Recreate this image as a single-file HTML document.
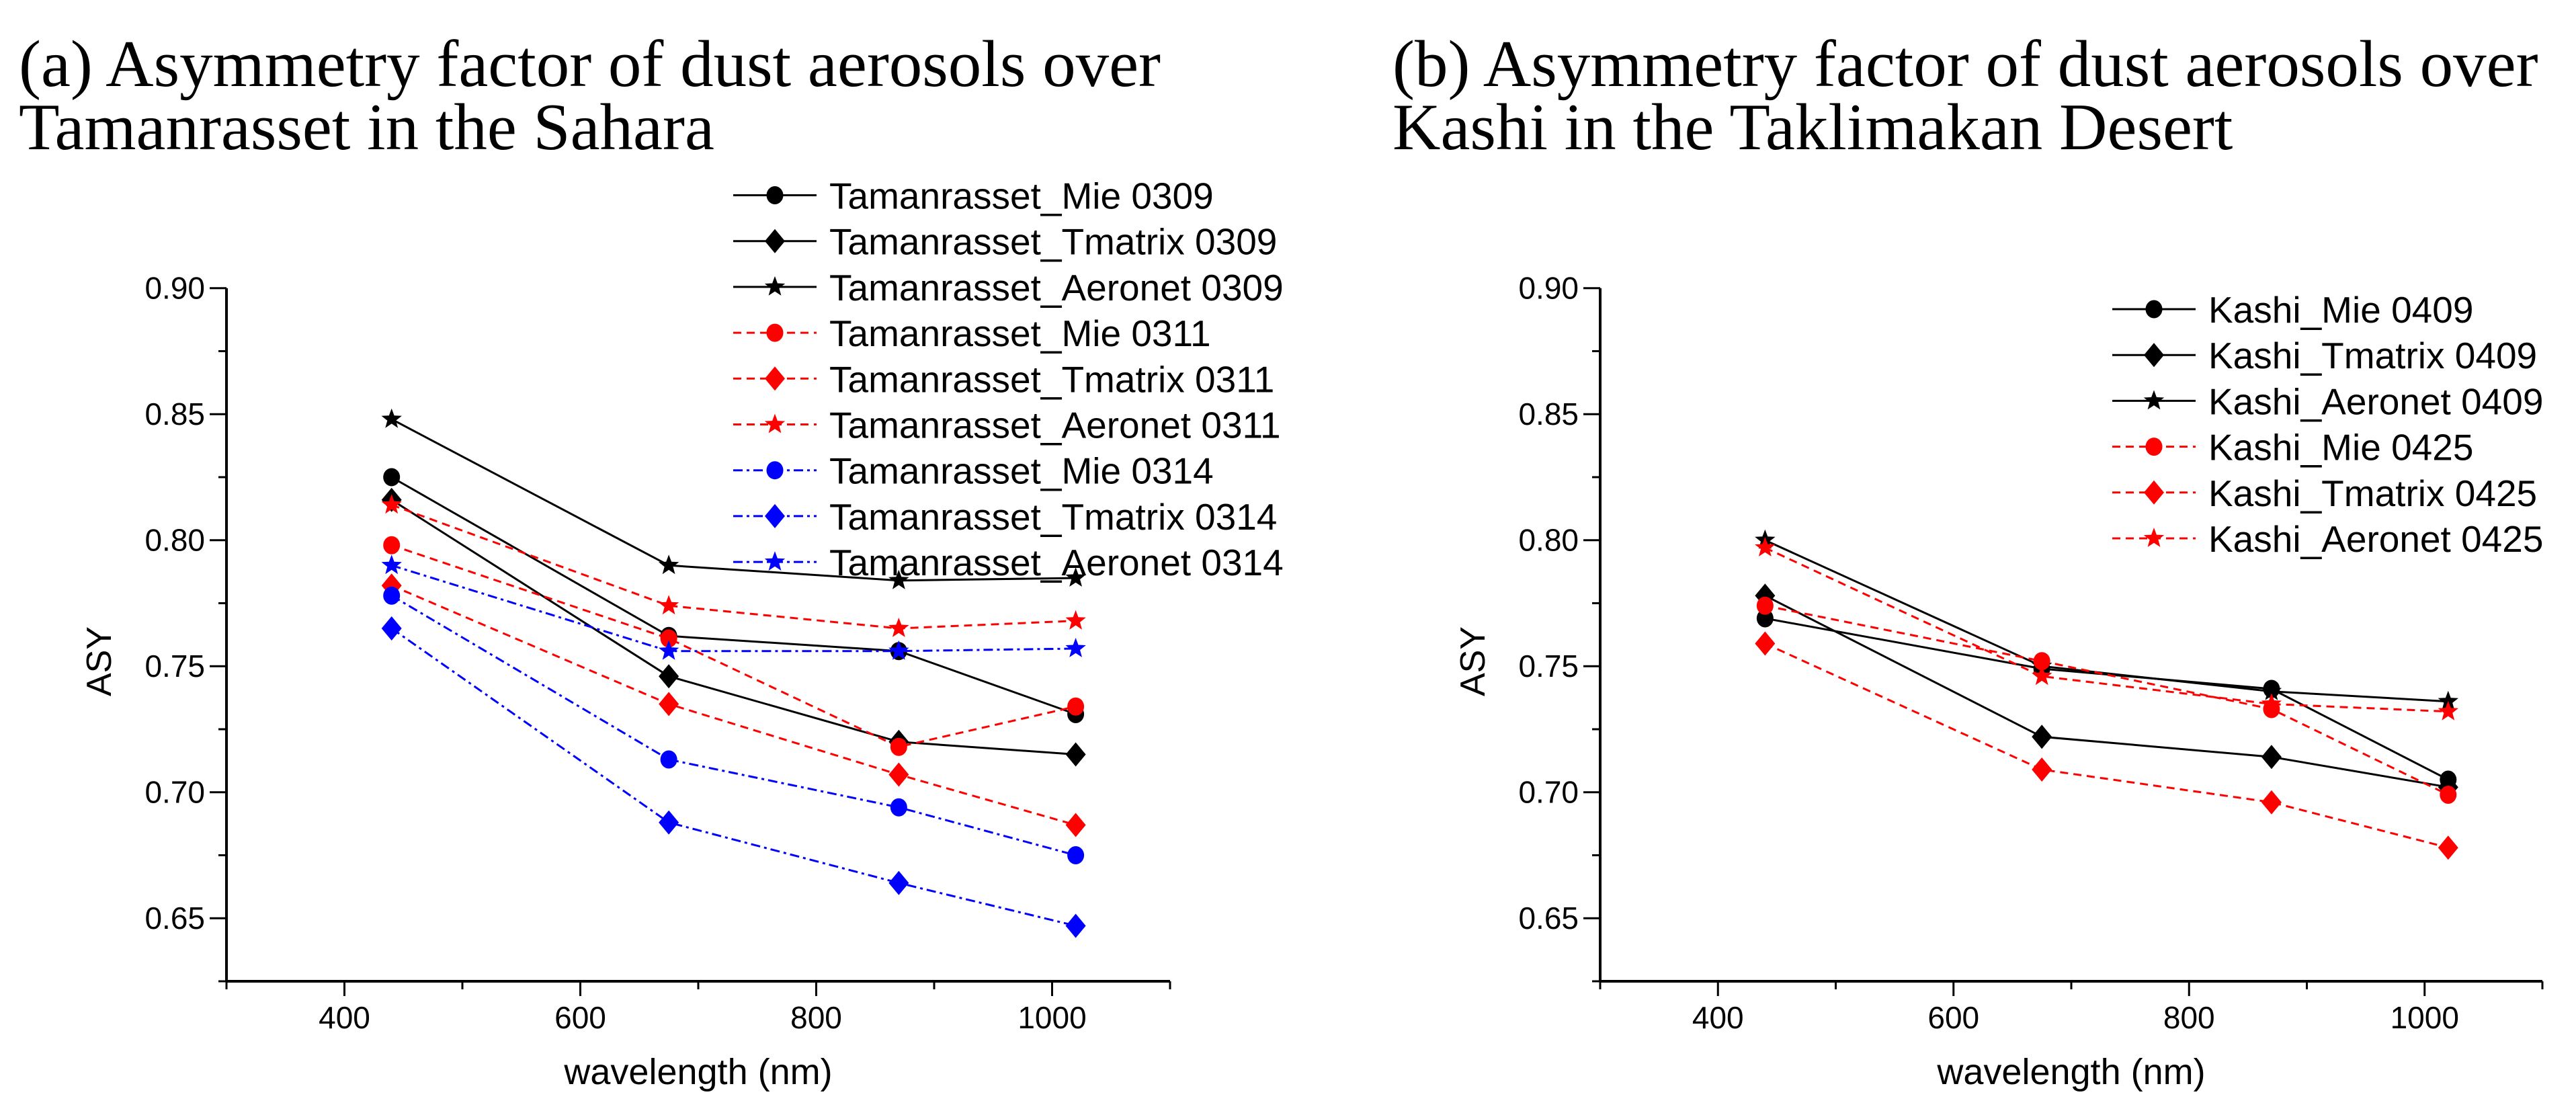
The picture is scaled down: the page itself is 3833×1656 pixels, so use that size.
<!DOCTYPE html>
<html><head><meta charset="utf-8"><style>
html,body{margin:0;padding:0;background:#fff;}
svg{display:block;}
.t{font-family:"Liberation Serif",serif;font-size:99px;fill:#000;}
.s{font-family:"Liberation Sans",sans-serif;fill:#000;}
</style></head><body>
<svg id="fig" width="3833" height="1656" viewBox="0 0 3833 1656" xmlns="http://www.w3.org/2000/svg">
<text class="t" x="28" y="128">(a) Asymmetry factor of dust aerosols over</text>
<text class="t" x="28" y="222">Tamanrasset in the Sahara</text>
<text class="t" x="2072" y="128">(b) Asymmetry factor of dust aerosols over</text>
<text class="t" x="2072" y="222">Kashi in the Taklimakan Desert</text>
<g id="pa"></g>
<g id="pb"></g>
</svg>
<script>
const wavelengths=[440,675,870,1020];
const xTicks=[400,600,800,1000];
const yTicks=[0.65,0.70,0.75,0.80,0.85,0.90];
const namesA=["Tamanrasset_Mie 0309","Tamanrasset_Tmatrix 0309","Tamanrasset_Aeronet 0309","Tamanrasset_Mie 0311","Tamanrasset_Tmatrix 0311","Tamanrasset_Aeronet 0311","Tamanrasset_Mie 0314","Tamanrasset_Tmatrix 0314","Tamanrasset_Aeronet 0314"];
const mie0309=[0.825,0.762,0.756,0.731];
const tmat0309=[0.816,0.746,0.720,0.715];
const aer0309=[0.848,0.790,0.784,0.785];
const mie0311=[0.798,0.761,0.718,0.734];
const tmat0311=[0.782,0.735,0.707,0.687];
const aer0311=[0.814,0.774,0.765,0.768];
const mie0314=[0.778,0.713,0.694,0.675];
const tmat0314=[0.765,0.688,0.664,0.647];
const aer0314=[0.790,0.756,0.756,0.757];
const namesB=["Kashi_Mie 0409","Kashi_Tmatrix 0409","Kashi_Aeronet 0409","Kashi_Mie 0425","Kashi_Tmatrix 0425","Kashi_Aeronet 0425"];
const kmie0409=[0.769,0.749,0.741,0.705];
const ktmat0409=[0.778,0.722,0.714,0.702];
const kaer0409=[0.800,0.750,0.740,0.736];
const kmie0425=[0.774,0.752,0.733,0.699];
const ktmat0425=[0.759,0.709,0.696,0.678];
const kaer0425=[0.797,0.746,0.735,0.732];

const NS="http://www.w3.org/2000/svg";
function mk(tag,attrs,parent){const e=document.createElementNS(NS,tag);for(const k in attrs)e.setAttribute(k,attrs[k]);parent.appendChild(e);return e;}
const styles={
 black:{c:"#000",d:""},
 red:{c:"#ff0000",d:"12 8"},
 blue:{c:"#0000ff",d:"14 6 4 6"}
};
function starPts(cx,cy,r){let p=[];for(let i=0;i<10;i++){const rr=i%2?r*0.42:r;const a=-Math.PI/2+i*Math.PI/5;p.push((cx+rr*Math.cos(a)).toFixed(1)+","+(cy+rr*Math.sin(a)).toFixed(1));}return p.join(" ");}
function marker(g,shape,x,y,c){
 let m;
 if(shape==="circle"){m=mk("ellipse",{cx:x,cy:y,rx:12.5,ry:13.5,fill:c},g);}
 else if(shape==="diamond"){m=mk("polygon",{points:`${x},${y-18} ${x+15},${y} ${x},${y+18} ${x-15},${y}`,fill:c},g);}
 else {m=mk("polygon",{points:starPts(x,y,16),fill:c},g);}
 return m;
}
function panel(gid,X0,X1,xAt300,xAt1100,series,names,styleKeys,shapes,legX,legY0){
 const g=document.getElementById(gid);
 const Ytop=428.7,Ybot=1460;
 const xs=v=>xAt300+(v-300)/800*(xAt1100-xAt300);
 const ys=v=>Ybot-(v-0.625)/0.275*(Ybot-Ytop);
 const ax=mk("g",{},g);
 
 
 mk("line",{x1:xAt300,y1:Ytop,x2:xAt300,y2:Ybot+1.5,stroke:"#000","stroke-width":4},ax);
 mk("line",{x1:xAt300-1.5,y1:Ybot,x2:xAt1100,y2:Ybot,stroke:"#000","stroke-width":4},ax);
 for(let v=0.625;v<=0.9001;v+=0.025){const major=Math.abs((v*100)%5)<0.01||Math.abs((v*100)%5-5)<0.01;mk("line",{x1:xAt300-(major?25:12),y1:ys(v),x2:xAt300,y2:ys(v),stroke:"#000","stroke-width":3},ax);}
 for(let v=300;v<=1100;v+=100){const major=v%200===0;mk("line",{x1:xs(v),y1:Ybot,x2:xs(v),y2:Ybot+(major?22:12),stroke:"#000","stroke-width":3},ax);}
 yTicks.forEach(v=>{const t=mk("text",{x:xAt300-32,y:ys(v)+16,"text-anchor":"end","font-size":46,class:"s"},ax);t.textContent=v.toFixed(2);
  
  });
 xTicks.forEach(v=>{const t=mk("text",{x:xs(v),y:1530,"text-anchor":"middle","font-size":46,class:"s"},ax);t.textContent=v;
  
  });
 const yl=mk("text",{x:0,y:0,"text-anchor":"middle","font-size":52,class:"s",transform:`translate(${xAt300-172},984) rotate(-90)`},ax);yl.textContent="ASY";
 
 
 const xl=mk("text",{x:(xAt300+xAt1100)/2,y:1613,"text-anchor":"middle","font-size":54,class:"s"},ax);xl.textContent="wavelength (nm)";
 
 
 series.forEach((vals,i)=>{
  const st=styles[styleKeys[i]];
  const sg=mk("g",{},g);
  
  
  const pts=vals.map((v,j)=>xs(wavelengths[j]).toFixed(1)+","+ys(v).toFixed(1)).join(" ");
  const pl=mk("polyline",{points:pts,fill:"none",stroke:st.c,"stroke-width":3,"stroke-dasharray":st.d},sg);
  
  
  vals.forEach((v,j)=>{const m=marker(sg,shapes[i],xs(wavelengths[j]),ys(v),st.c);
   
   });
  const ly=legY0+i*68.2;
  const lg=mk("g",{},g);
  
  
  mk("line",{x1:legX,y1:ly,x2:legX+124,y2:ly,stroke:st.c,"stroke-width":3,"stroke-dasharray":st.d},lg);
  marker(lg,shapes[i],legX+62,ly,st.c);
  const t=mk("text",{x:legX+143,y:ly+20,"font-size":55,class:"s"},lg);t.textContent=names[i];
 });
}
panel("pa",0,0,337,1741,[mie0309,tmat0309,aer0309,mie0311,tmat0311,aer0311,mie0314,tmat0314,aer0314],namesA,
 ["black","black","black","red","red","red","blue","blue","blue"],["circle","diamond","star","circle","diamond","star","circle","diamond","star"],1091,290.5);
panel("pb",0,0,2381,3783,[kmie0409,ktmat0409,kaer0409,kmie0425,ktmat0425,kaer0425],namesB,
 ["black","black","black","red","red","red"],["circle","diamond","star","circle","diamond","star"],3143,460);
</script>
</body></html>
